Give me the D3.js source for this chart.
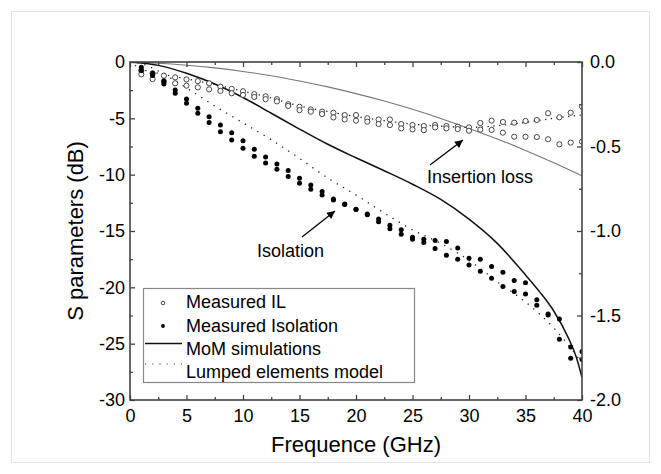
<!DOCTYPE html>
<html><head><meta charset="utf-8">
<script src="https://cdn.jsdelivr.net/npm/d3@7"></script>
<style>
html,body{margin:0;padding:0;background:#fff;}
svg{display:block;font-family:"Liberation Sans",Arial,sans-serif;}
</style></head>
<body>
<svg id="chart" width="661" height="474"></svg>
<script>
// ---------- data ----------
const xTicks = [0,5,10,15,20,25,30,35,40];
const yLeftTicks = [0,-5,-10,-15,-20,-25,-30];
const yRightTicks = [0,-0.5,-1,-1.5,-2];

const measFreq = [1,2,3,4,5,6,7,8,9,10,11,12,13,14,15,16,17,18,19,20,21,22,23,24,25,26,27,28,29,30,31,32,33,34,35,36,37,38,39,40];
// Measured insertion loss (right axis, dB), two measurements
const ilMeasA = [-0.051,-0.067,-0.081,-0.091,-0.103,-0.113,-0.126,-0.146,-0.159,-0.173,-0.190,-0.203,-0.220,-0.250,-0.265,-0.281,-0.294,-0.300,-0.314,-0.314,-0.333,-0.340,-0.340,-0.367,-0.373,-0.379,-0.373,-0.379,-0.383,-0.387,-0.361,-0.347,-0.355,-0.359,-0.349,-0.343,-0.303,-0.327,-0.300,-0.264];
const ilMeasB = [-0.073,-0.101,-0.117,-0.126,-0.140,-0.150,-0.162,-0.171,-0.185,-0.195,-0.207,-0.220,-0.233,-0.260,-0.285,-0.294,-0.308,-0.328,-0.340,-0.347,-0.353,-0.367,-0.373,-0.393,-0.399,-0.403,-0.387,-0.393,-0.397,-0.407,-0.400,-0.402,-0.418,-0.442,-0.442,-0.444,-0.457,-0.487,-0.477,-0.471];
// Measured isolation (left axis, dB), two measurements
const isoMeasA = [-0.47,-1.0,-1.66,-2.48,-3.28,-4.11,-4.85,-5.59,-6.27,-6.98,-7.75,-8.43,-9.05,-9.64,-10.32,-10.91,-11.5,-12.16,-12.6,-13.07,-13.49,-13.93,-14.49,-14.9,-15.56,-15.73,-15.85,-15.94,-16.5,-17.42,-17.5,-18.16,-18.66,-19.4,-19.6,-21.1,-22.36,-22.8,-25.3,-25.7];
const isoMeasB = [-0.75,-1.2,-1.95,-2.78,-3.67,-4.55,-5.38,-6.18,-6.92,-7.66,-8.37,-8.96,-9.52,-10.17,-10.77,-11.3,-11.8,-12.25,-12.65,-13.1,-13.55,-14.17,-14.79,-15.29,-15.73,-16.03,-16.56,-17.15,-17.5,-18.01,-18.57,-19.19,-19.93,-20.38,-20.59,-21.6,-22.45,-24.6,-26.3,-26.4];

// MoM simulations
const momILFreq = [0,2.5,5,7.5,10,12.5,15,17.5,20,22.5,25,27.5,30,32.5,35,37.5,40];
const momIL = [0,-0.007,-0.019,-0.035,-0.056,-0.081,-0.112,-0.147,-0.187,-0.231,-0.28,-0.334,-0.393,-0.455,-0.523,-0.596,-0.673]; // right axis
const momIsoFreq = [0,2.5,5,7.5,10,12.5,15,17.5,20,22.5,25,27.5,30,32.5,35,36.25,37.5,38.75,39.5,40];
const momIso = [0,-0.3,-1.0,-1.95,-3.15,-4.55,-5.95,-7.3,-8.5,-9.65,-10.85,-12.2,-13.95,-16.1,-18.9,-20.4,-22.1,-24.4,-26.2,-28.0]; // left axis

// Lumped elements model
const lumpFreq = [0,1,2.5,5,7.5,10,12.5,15,17.5,20,22.5,25,27.5,30,32.5,35,37.5,40];
const lumpIL = [0,-0.04,-0.067,-0.1,-0.133,-0.173,-0.213,-0.26,-0.293,-0.323,-0.347,-0.367,-0.38,-0.387,-0.377,-0.357,-0.333,-0.313]; // right axis
const lumpIso = [0,-0.15,-0.8,-2.3,-3.9,-5.4,-6.9,-8.55,-10.3,-11.8,-13.4,-14.9,-16.1,-17.6,-19.5,-21.3,-23.6,-26.7]; // left axis

const legendLabels = ["Measured IL","Measured Isolation","MoM simulations","Lumped elements model"];

// ---------- layout ----------
const svg = d3.select("#chart");
const L = 130, R = 582, T = 62, B = 400;
const x = d3.scaleLinear().domain([0,40]).range([L,R]);
const yL = d3.scaleLinear().domain([-30,0]).range([B,T]);
const yR = d3.scaleLinear().domain([-2,0]).range([B,T]);

// outer faint frame
svg.append("rect").attr("x",11.5).attr("y",11.5).attr("width",638).attr("height",451)
  .attr("fill","none").attr("stroke","#e3e3e3").attr("stroke-width",1);

svg.append("defs").append("clipPath").attr("id","clip")
  .append("rect").attr("x",L).attr("y",T).attr("width",R-L).attr("height",B-T);

const plot = svg.append("g").attr("clip-path","url(#clip)");

// lines
const lineL = (fs, vs) => d3.line().x((d,i)=>x(fs[i])).y(d=>yL(d))(vs);
const lineR = (fs, vs) => d3.line().x((d,i)=>x(fs[i])).y(d=>yR(d))(vs);
const curveLineL = (fs, vs) => d3.line().curve(d3.curveMonotoneX).x((d,i)=>x(fs[i])).y(d=>yL(d))(vs);
const curveLineR = (fs, vs) => d3.line().curve(d3.curveMonotoneX).x((d,i)=>x(fs[i])).y(d=>yR(d))(vs);

plot.append("path").attr("d", curveLineR(momILFreq, momIL))
  .attr("fill","none").attr("stroke","#777").attr("stroke-width",1.1);
plot.append("path").attr("d", curveLineL(momIsoFreq, momIso))
  .attr("fill","none").attr("stroke","#111").attr("stroke-width",1.5);
plot.append("path").attr("d", curveLineR(lumpFreq, lumpIL))
  .attr("fill","none").attr("stroke","#222").attr("stroke-width",1.3).attr("stroke-dasharray","1.3,4.5");
plot.append("path").attr("d", curveLineL(lumpFreq, lumpIso))
  .attr("fill","none").attr("stroke","#222").attr("stroke-width",1.3).attr("stroke-dasharray","1.3,6");

// markers
[ilMeasA, ilMeasB].forEach(arr => {
  plot.append("g").selectAll("circle").data(arr).join("circle")
    .attr("cx",(d,i)=>x(measFreq[i])).attr("cy",d=>yR(d)).attr("r",2.6)
    .attr("fill","#fff").attr("stroke","#333").attr("stroke-width",0.9);
});
[isoMeasA, isoMeasB].forEach(arr => {
  plot.append("g").selectAll("circle").data(arr).join("circle")
    .attr("cx",(d,i)=>x(measFreq[i])).attr("cy",d=>yL(d)).attr("r",2.5)
    .attr("fill","#000");
});

// ---------- axes ----------
const axisColor = "#444";
function styleAxis(g){
  g.select(".domain").remove();
  g.selectAll(".tick line").attr("stroke",axisColor).attr("stroke-width",1.3);
  g.selectAll(".tick text").attr("fill","#000").style("font-size","18px")
   .style("font-family","'Liberation Sans',Arial,sans-serif");
}
const minorX = d3.range(0,41,2.5).filter(v=>v%5!==0);
const minorY = d3.range(-30,1,2.5).filter(v=>v%5!==0);
const minorYR = d3.range(-2,0.01,0.25).filter(v=>Math.abs(v*2-Math.round(v*2))>1e-6);

svg.append("g").attr("transform",`translate(0,${B})`)
  .call(d3.axisBottom(x).tickValues(xTicks).tickSize(-5).tickPadding(9).tickFormat(d=>String(d))).call(styleAxis);
svg.append("g").attr("transform",`translate(0,${B})`)
  .call(d3.axisBottom(x).tickValues(minorX).tickSize(-3).tickFormat("")).call(styleAxis);
svg.append("g").attr("transform",`translate(0,${T})`)
  .call(d3.axisTop(x).tickValues(xTicks).tickSize(-5).tickFormat("")).call(styleAxis);
svg.append("g").attr("transform",`translate(0,${T})`)
  .call(d3.axisTop(x).tickValues(minorX).tickSize(-3).tickFormat("")).call(styleAxis);

svg.append("g").attr("transform",`translate(${L},0)`)
  .call(d3.axisLeft(yL).tickValues(yLeftTicks).tickSize(-5).tickPadding(5).tickFormat(d=>String(d))).call(styleAxis);
svg.append("g").attr("transform",`translate(${L},0)`)
  .call(d3.axisLeft(yL).tickValues(minorY).tickSize(-3).tickFormat("")).call(styleAxis);
svg.append("g").attr("transform",`translate(${R},0)`)
  .call(d3.axisRight(yR).tickValues(yRightTicks).tickSize(-5).tickPadding(8).tickFormat(d=>d.toFixed(1))).call(styleAxis);
svg.append("g").attr("transform",`translate(${R},0)`)
  .call(d3.axisRight(yR).tickValues(minorYR).tickSize(-3).tickFormat("")).call(styleAxis);

// plot frame
svg.append("rect").attr("x",L).attr("y",T).attr("width",R-L).attr("height",B-T)
  .attr("fill","none").attr("stroke",axisColor).attr("stroke-width",1.6);

// titles
svg.append("text").attr("x",(L+R)/2).attr("y",452).attr("text-anchor","middle")
  .style("font-size","22px").text("Frequence (GHz)");
svg.append("text").attr("transform",`translate(83,${(T+B)/2}) rotate(-90)`).attr("text-anchor","middle")
  .style("font-size","22px").text("S parameters (dB)");

// annotations
svg.append("defs").append("marker").attr("id","arrow").attr("viewBox","0 0 10 10")
  .attr("refX",10).attr("refY",5).attr("markerWidth",11).attr("markerHeight",8)
  .attr("markerUnits","userSpaceOnUse").attr("orient","auto")
  .append("path").attr("d","M0,0L10,5L0,10z").attr("fill","#000");
svg.append("line").attr("x1",430).attr("y1",165).attr("x2",463).attr("y2",140)
  .attr("stroke","#000").attr("stroke-width",1.3).attr("marker-end","url(#arrow)");
svg.append("text").attr("x",427).attr("y",183).style("font-size","18px").text("Insertion loss");
svg.append("line").attr("x1",302).attr("y1",237).attr("x2",335).attr("y2",211)
  .attr("stroke","#000").attr("stroke-width",1.3).attr("marker-end","url(#arrow)");
svg.append("text").attr("x",257).attr("y",257).style("font-size","18px").text("Isolation");

// legend
const lg = svg.append("g");
lg.append("rect").attr("x",143.5).attr("y",288.5).attr("width",271).attr("height",94)
  .attr("fill","#fff").attr("stroke","#888").attr("stroke-width",1.2);
const rowBase = [308,331.5,355,378];
legendLabels.forEach((t,i)=>{
  lg.append("text").attr("x",186).attr("y",rowBase[i]).style("font-size","18px").text(t);
});
lg.append("circle").attr("cx",163).attr("cy",rowBase[0]-5).attr("r",1.8)
  .attr("fill","#fff").attr("stroke","#333").attr("stroke-width",0.9);
lg.append("circle").attr("cx",163).attr("cy",rowBase[1]-5.5).attr("r",1.9).attr("fill","#000");
lg.append("line").attr("x1",145).attr("x2",182).attr("y1",rowBase[2]-11.5).attr("y2",rowBase[2]-11.5)
  .attr("stroke","#111").attr("stroke-width",1.3);
lg.append("line").attr("x1",145).attr("x2",182).attr("y1",rowBase[3]-14).attr("y2",rowBase[3]-14)
  .attr("stroke","#444").attr("stroke-width",1.2).attr("stroke-dasharray","1.2,6");
</script>
</body></html>
